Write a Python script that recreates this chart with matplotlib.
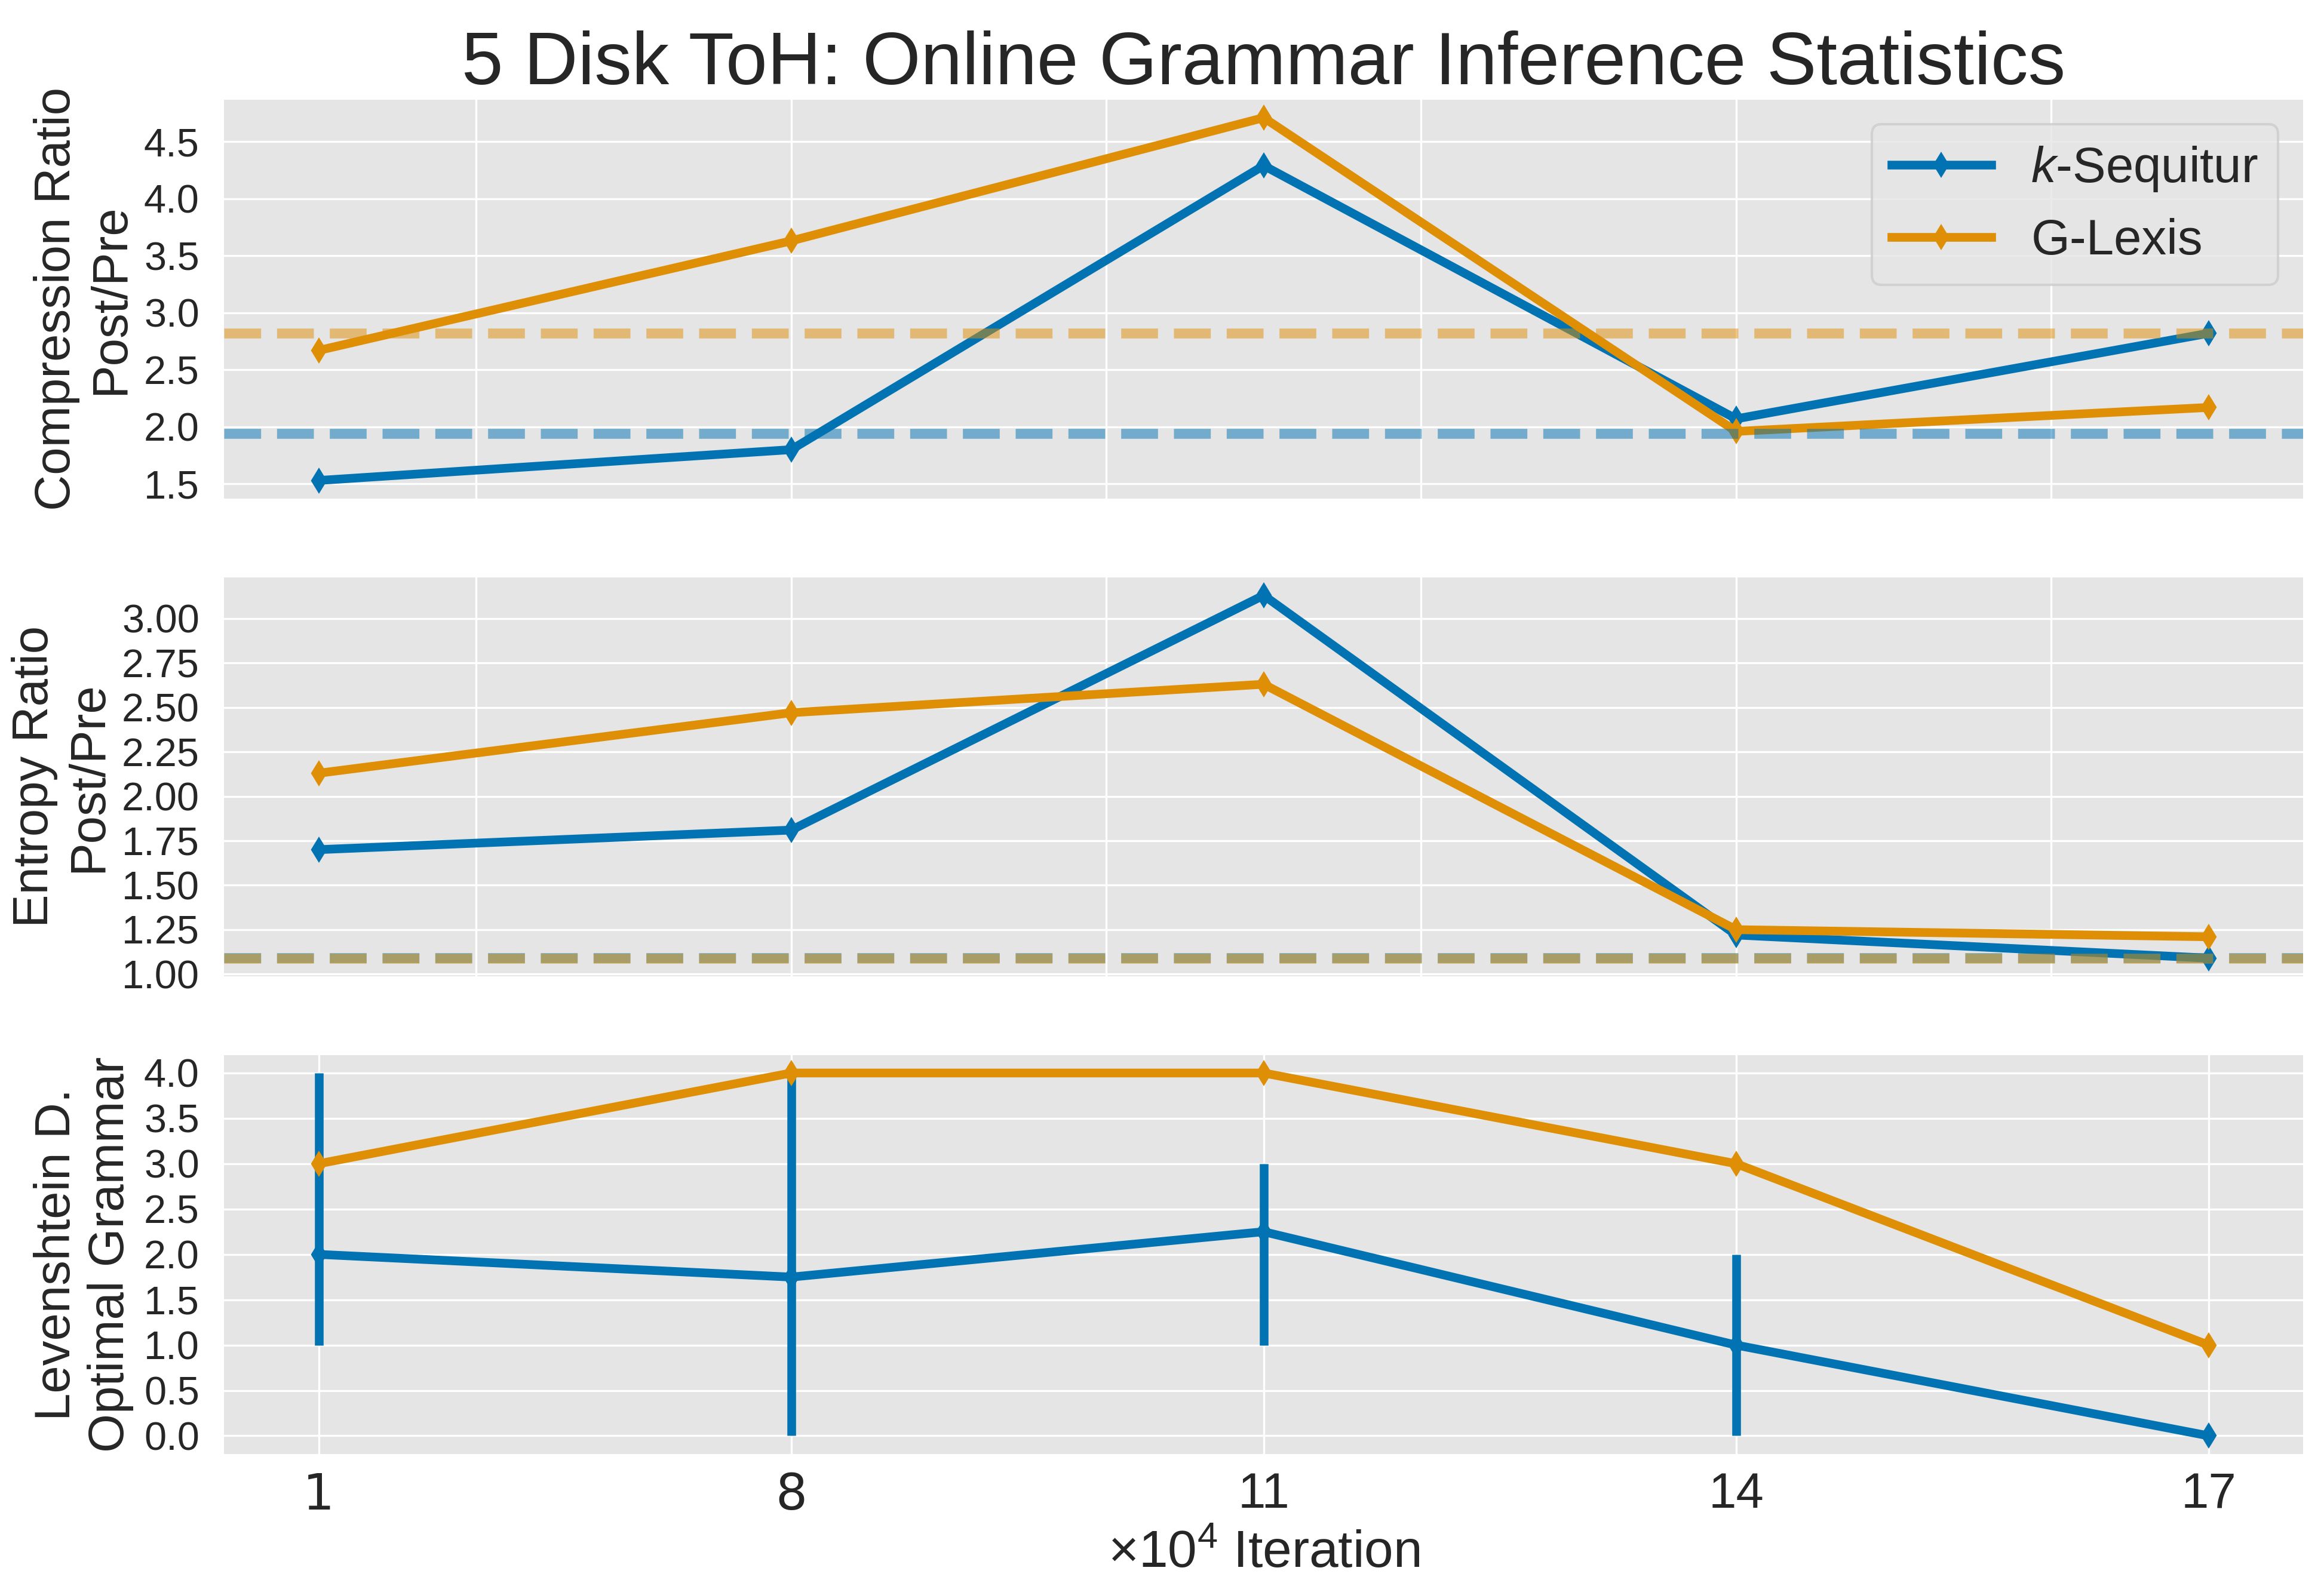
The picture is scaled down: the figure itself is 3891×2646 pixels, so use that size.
import numpy as np
import matplotlib
matplotlib.use("Agg")
import matplotlib.pyplot as plt
from matplotlib.ticker import MultipleLocator, FormatStrFormatter

# iterations (x10^4)
iterations = ["1", "8", "11", "14", "17"]

# compression ratio post/pre
comp_seq = [1.53, 1.80, 4.29, 2.07, 2.82]
comp_glx = [2.67, 3.63, 4.71, 1.96, 2.17]
comp_seq_base = 1.94
comp_glx_base = 2.82

# entropy ratio post/pre
ent_seq = [1.70, 1.81, 3.13, 1.22, 1.09]
ent_glx = [2.13, 2.47, 2.63, 1.25, 1.21]
ent_seq_base = 1.093
ent_glx_base = 1.087

# levenshtein distance to optimal grammar
lev_seq = [2.0, 1.75, 2.25, 1.0, 0.0]
lev_seq_lo = [1, 0, 1, 0, 0]
lev_seq_hi = [4, 4, 3, 2, 0]
lev_glx = [3, 4, 4, 3, 1]

plt.rcParams.update({
    "font.family": ["Liberation Sans", "DejaVu Sans"],
    "mathtext.fontset": "custom",
    "mathtext.rm": "Liberation Sans",
    "mathtext.it": "Liberation Sans:italic",
    "axes.facecolor": "#E5E5E5",
    "axes.grid": True,
    "axes.axisbelow": True,
    "grid.color": "white",
    "grid.linewidth": 0.8,
    "text.color": "#262626",
    "axes.labelcolor": "#262626",
    "xtick.color": "#262626",
    "ytick.color": "#262626",
    "xtick.major.size": 0,
    "ytick.major.size": 0,
    "xtick.major.pad": 7,
    "ytick.major.pad": 10,
    "ytick.labelsize": 16,
    "xtick.labelsize": 20,
    "axes.labelsize": 20,
})

blue = "#0173B2"
orange = "#DE8F05"
line_kw = dict(lw=3.5, marker="d", ms=6)
base_kw = dict(ls="--", lw=4, alpha=0.5)

fig, axes = plt.subplots(3, 1, figsize=(3891 / 300, 2646 / 300), dpi=300)
x = np.arange(len(iterations))

#compression
ax = axes[0]
ax.plot(x, comp_seq, color=blue, label="$k$-Sequitur", **line_kw)
ax.plot(x, comp_glx, color=orange, label="G-Lexis", **line_kw)
ax.axhline(comp_seq_base, color=blue, **base_kw)
ax.axhline(comp_glx_base, color=orange, **base_kw)
ax.set_title("5 Disk ToH: Online Grammar Inference Statistics", fontsize=30)
ax.set_ylabel("Compression Ratio\nPost/Pre")
ax.yaxis.set_major_locator(MultipleLocator(0.5))
ax.yaxis.set_major_formatter(FormatStrFormatter("%.1f"))
ax.legend(loc="upper right", fontsize=20)

#entropy
ax = axes[1]
ax.plot(x, ent_seq, color=blue, **line_kw)
ax.plot(x, ent_glx, color=orange, **line_kw)
ax.axhline(ent_seq_base, color=blue, **base_kw)
ax.axhline(ent_glx_base, color=orange, **base_kw)
ax.set_ylabel("Entropy Ratio\nPost/Pre")
ax.yaxis.set_major_locator(MultipleLocator(0.25))
ax.yaxis.set_major_formatter(FormatStrFormatter("%.2f"))

for ax in axes[:2]:
    ax.set_xticks(np.arange(1, 12, 2) / 3)
    ax.tick_params(labelbottom=False)

#levenshtein
ax = axes[2]
lev = np.array(lev_seq)
yerr = [lev - np.array(lev_seq_lo), np.array(lev_seq_hi) - lev]
ax.errorbar(x, lev_seq, yerr=yerr, color=blue, **line_kw)
ax.plot(x, lev_glx, color=orange, **line_kw)
ax.set_ylabel("Levenshtein D.\nOptimal Grammar")
ax.yaxis.set_major_locator(MultipleLocator(0.5))
ax.yaxis.set_major_formatter(FormatStrFormatter("%.1f"))
ax.set_xticks(x)
ax.set_xticklabels(iterations)
for t in ax.get_xticklabels()[:2]:
    t.set_fontfamily("DejaVu Sans")
ax.set_xlabel(r"$\times 10^4$ Iteration", fontsize=21)

for ax in axes:
    for s in ax.spines.values():
        s.set_visible(False)

plt.subplots_adjust(left=0.0965, right=0.991, top=0.937, bottom=0.0798, hspace=0.197)
plt.savefig("out.png", dpi=300)
